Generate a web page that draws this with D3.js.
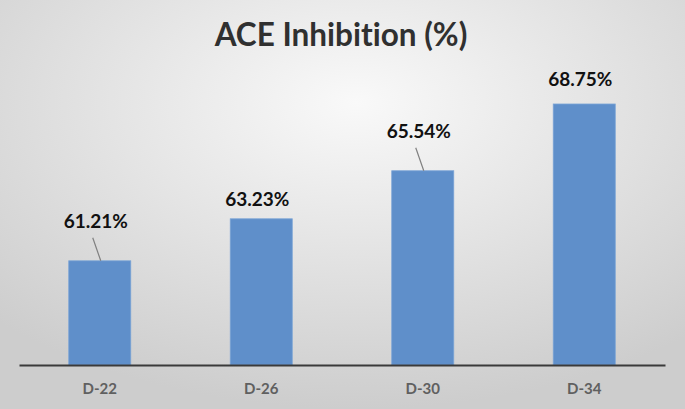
<!DOCTYPE html>
<html><head><meta charset="utf-8">
<script src="https://cdn.jsdelivr.net/npm/d3@7"></script>
<style>body{margin:0;}svg{display:block;} text{font-variant-ligatures:none;font-feature-settings:"liga" 0;}</style>
</head><body>
<script>
const categories = ["D-22", "D-26", "D-30", "D-34"];
const values = [61.21, 63.23, 65.54, 68.75];
const labels = ["61.21%", "63.23%", "65.54%", "68.75%"];
const leaderLine = [true, false, true, false];

const W = 685, H = 409;
const svg = d3.select("body").append("svg").attr("width", W).attr("height", H);
const defs = svg.append("defs");
const g = defs.append("radialGradient").attr("id", "bg")
  .attr("cx", "52%").attr("cy", "25%").attr("r", "75%").attr("fx", "52%").attr("fy", "25%");
g.append("stop").attr("offset", "0%").attr("stop-color", "#f9f9f9");
g.append("stop").attr("offset", "100%").attr("stop-color", "#cdcdcd");
svg.append("rect").attr("width", W).attr("height", H).attr("fill", "url(#bg)");

const x = d3.scaleBand().domain(categories).range([19, 665]).paddingInner(0.616).paddingOuter(0.308);
const y = d3.scaleLinear().domain([56.2, 70]).range([365, 78]);

svg.append("text").attr("x", 341).attr("y", 46).attr("text-anchor", "middle")
  .attr("font-family", "Lato, 'Open Sans', sans-serif").attr("font-weight", "bold")
  .attr("font-size", 31.5).attr("fill", "#303030").text("ACE Inhibition (%)");

svg.selectAll("rect.bar").data(values).join("rect").attr("class", "bar")
  .attr("x", (d, i) => x(categories[i])).attr("width", x.bandwidth())
  .attr("y", d => y(d)).attr("height", d => y.range()[0] - y(d))
  .attr("fill", "#5f8fca").attr("stroke", "#7aa4d6").attr("stroke-width", 0.8);

const xAxis = d3.axisBottom(x).tickSize(0).tickPadding(18);
const ax = svg.append("g").attr("transform", "translate(0,365)").call(xAxis);
ax.select(".domain").attr("stroke", "#3a3a3a").attr("stroke-width", 2);
ax.selectAll("text").attr("font-family", "Lato, 'Open Sans', sans-serif").attr("font-weight", "bold")
  .attr("font-size", 15).attr("fill", "#606060");

const nudge = [0, 0, 0, 5];
const lab = svg.append("g");
values.forEach((v, i) => {
  const cx = x(categories[i]) + x.bandwidth() / 2;
  const off = (leaderLine[i] ? 33 : 13) + nudge[i];
  const tx = cx - 4;
  if (leaderLine[i]) {
    lab.append("line").attr("x1", tx - 3).attr("y1", y(v) - off + 10).attr("x2", cx + 1).attr("y2", y(v))
      .attr("stroke", "#808080").attr("stroke-width", 1.2);
  }
  lab.append("text").attr("x", tx).attr("y", y(v) - off).attr("text-anchor", "middle")
    .attr("font-family", "Lato, 'Open Sans', sans-serif").attr("font-weight", "bold")
    .attr("font-size", 19).attr("fill", "#111").text(labels[i]);
});
</script>
</body></html>
